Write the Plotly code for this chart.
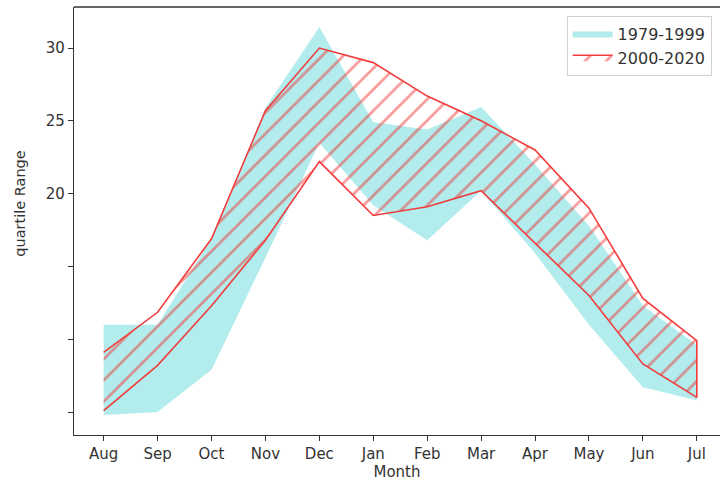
import plotly.graph_objects as go

months = ["Aug", "Sep", "Oct", "Nov", "Dec", "Jan", "Feb", "Mar", "Apr", "May", "Jun", "Jul"]

# 1979-1999 quartile range
p1_upper = [11.0, 11.0, 16.9, 25.9, 31.45, 24.9, 24.4, 25.95, 22.0, 17.8, 12.3, 9.6]
p1_lower = [4.8, 5.0, 7.9, 15.6, 23.5, 19.2, 16.8, 20.2, 15.9, 11.0, 6.7, 5.8]

# 2000-2020 quartile range
p2_upper = [9.1, 11.85, 16.9, 25.7, 30.0, 29.0, 26.7, 25.0, 23.0, 19.0, 12.8, 9.9]
p2_lower = [5.1, 8.2, 12.3, 16.8, 22.2, 18.5, 19.1, 20.2, 16.6, 13.0, 8.3, 6.0]

fig = go.Figure()

fig.add_trace(go.Scatter(
    x=months + months[::-1],
    y=p1_upper + p1_lower[::-1],
    fill="toself",
    fillcolor="rgba(0,191,191,0.3)",
    line=dict(width=0, color="rgba(0,191,191,0)"),
    mode="lines",
    name="1979-1999",
    hoverinfo="skip",
))

fig.add_trace(go.Scatter(
    x=months + months[::-1],
    y=p2_upper + p2_lower[::-1],
    fill="toself",
    fillcolor="rgba(0,0,0,0)",
    fillpattern=dict(shape="/", fgcolor="rgb(242,50,50)", size=15, solidity=0.18,
                     fillmode="overlay"),
    line=dict(width=1.6, color="rgb(242,60,60)"),
    mode="lines",
    name="2000-2020",
    hoverinfo="skip",
))

axis_font = dict(family="DejaVu Sans", size=15, color="#333333")

fig.update_layout(
    width=720, height=485,
    margin=dict(l=74, r=0, t=7, b=50),
    paper_bgcolor="white",
    plot_bgcolor="white",
    font=dict(family="DejaVu Sans", color="#333333"),
    showlegend=True,
    legend=dict(
        x=0.987, y=0.98, xanchor="right", yanchor="top",
        bordercolor="#d0d0d0", borderwidth=1, bgcolor="rgba(255,255,255,0.8)",
        font=dict(family="DejaVu Sans", size=16, color="#333333"),
        itemwidth=40,
    ),
    xaxis=dict(
        type="category",
        categoryorder="array", categoryarray=months,
        range=[-0.55, 11.43],
        showline=True, linecolor="#333333", linewidth=1.3,
        ticks="outside", ticklen=5, tickcolor="#333333", tickwidth=1.2,
        tickfont=axis_font, showgrid=False, zeroline=False,
        title=dict(text="Month", font=dict(family="DejaVu Sans", size=15, color="#333333"), standoff=4),
    ),
    yaxis=dict(
        range=[3.42, 32.82],
        tickvals=[5, 10, 15, 20, 25, 30],
        ticktext=["", "", "", "20", "25", "30"],
        showline=True, linecolor="#333333", linewidth=1.3,
        ticks="outside", ticklen=5, tickcolor="#333333", tickwidth=1.2,
        tickfont=axis_font, showgrid=False, zeroline=False,
    ),
    annotations=[dict(
        text="quartile Range", textangle=-90,
        xref="paper", yref="paper", x=-0.084, y=0.542,
        xanchor="center", yanchor="middle", showarrow=False,
        font=dict(family="DejaVu Sans", size=14.5, color="#333333"),
    )],
    shapes=[dict(type="line", xref="paper", yref="paper", x0=0, x1=1, y0=1, y1=1,
                 line=dict(color="#333333", width=1.3))],
)

fig.write_html("out.html", config={"displayModeBar": False},
               post_script="document.body.style.margin='0';document.body.style.overflow='hidden';")
